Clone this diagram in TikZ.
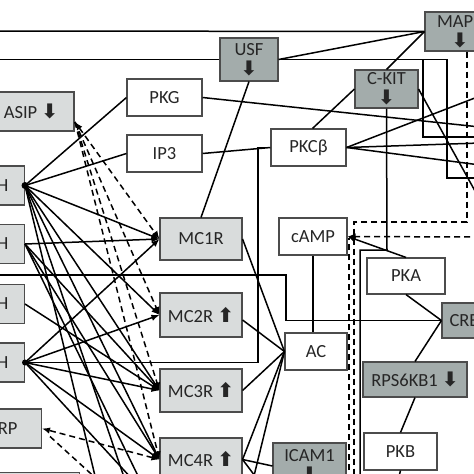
\documentclass[tikz,border=0pt]{standalone}
\usepackage{fontspec}
\setmainfont{Carlito}
\newfontfamily\symfont{DejaVu Sans}
\usetikzlibrary{arrows.meta,calc}
\definecolor{lbox}{RGB}{217,220,220}
\definecolor{dbox}{RGB}{163,172,171}
\newcommand{\dnarr}{{\symfont\bfseries\fontsize{20}{20}\selectfont ⬇}}
\newcommand{\uparr}{{\symfont\bfseries\fontsize{20}{20}\selectfont ⬆}}
\begin{document}
\begin{tikzpicture}[x=1pt,y=-1pt,
  bx/.style={draw=black!70, line width=1.1pt, inner sep=0pt, font=\fontsize{18.5}{20}\selectfont, text=black!85, align=center},
  lg/.style={bx, fill=lbox}, dg/.style={bx, fill=dbox}, wt/.style={bx, fill=white},
  lbx/.style={lg, minimum height=39, text width=40pt, inner xsep=16pt, align=right, anchor=east},
  ln/.style={line width=1.5pt, black},
  dl/.style={ln, dash pattern=on 6pt off 4pt},
  ar/.style={-{Latex[length=8pt,width=6.5pt]}},
  ba/.style={{Latex[length=8pt,width=6.5pt]}-{Latex[length=8pt,width=6.5pt]}},
  dot/.style={fill=black}
]
\useasboundingbox (0,0) rectangle (474,474);
\fill[white] (0,0) rectangle (474,474);
\clip (0,0) rectangle (474,474);
% nodes
\node[lg, minimum width=86, minimum height=39] (ASIP) at (31,111.5) {ASIP \dnarr};
\node[wt, minimum width=75, minimum height=37] (PKG) at (164.5,97.5) {PKG};
\node[wt, minimum width=75, minimum height=37] (IP3) at (164.5,153.5) {IP3};
\node[dg, minimum width=58, minimum height=43] (USF) at (249,59.5) {USF\\[0pt]\dnarr};
\node[dg, minimum width=70, minimum height=39] (MAPK) at (460,31.5) {MAPK\\[0pt]\dnarr};
\node[dg, minimum width=63, minimum height=38] (CKIT) at (386.5,89) {C-KIT\\[0pt]\dnarr};
\node[wt, minimum width=75, minimum height=37] (PKCb) at (308.5,147.5) {PKCβ};
\node[wt, minimum width=68, minimum height=37] (cAMP) at (313,236.5) {cAMP};
\node[wt, minimum width=78, minimum height=36] (PKA) at (406,276) {PKA};
\node[dg, minimum width=54, minimum height=35] (CREB) at (469,320.5) {CREB};
\node[wt, minimum width=62, minimum height=37] (AC) at (316,351.5) {AC};
\node[dg, minimum width=104, minimum height=35] (RPS) at (415,379.5) {RPS6KB1 \dnarr};
\node[wt, minimum width=73, minimum height=37] (PKB) at (400.5,451.5) {PKB};
\node[dg, minimum width=73, minimum height=46] (ICAM1) at (309.5,466) {ICAM1\\[0pt]\dnarr};
\node[lg, minimum width=82, minimum height=42] (MC1R) at (201,239) {MC1R};
\node[lg, minimum width=82, minimum height=44] (MC2R) at (201,315) {MC2R \uparr};
\node[lg, minimum width=82, minimum height=43] (MC3R) at (201,390.5) {MC3R \uparr};
\node[lg, minimum width=82, minimum height=43] (MC4R) at (201,459.5) {MC4R \uparr};
\node[lbx] (L1) at (25,185.5) {H};
\node[lbx] (L2) at (25,244) {H};
\node[lbx] (L3) at (25,304) {H};
\node[lbx] (L4) at (25,362.5) {H};
\node[lbx, inner xsep=24pt] (L5) at (42,428.5) {RP};
\node[lg, minimum width=90, minimum height=40, anchor=north east] (L6) at (80,472) {};
% off-page ends
\coordinate (tl1) at (-5,31);
\coordinate (tl2) at (-5,59.5);
\coordinate (tl3) at (-5,275);
\coordinate (r1) at (480,137);
\coordinate (r2) at (480,178);
\coordinate (r3) at (480,200);
\coordinate (r4) at (480,127);
\coordinate (r5) at (480,96);
\coordinate (r6) at (480,143);
\coordinate (r7) at (480,165);
\coordinate (r8) at (480,237);
\coordinate (b1) at (96,480);
\coordinate (b2) at (125,480);
\coordinate (b3) at (140,480);
\coordinate (b4) at (133,480);
\coordinate (b5) at (253,480);
\coordinate (b6) at (258,480);
\coordinate (b7) at (398,480);
\coordinate (b8) at (360,480);
\coordinate (b9) at (354,480);
\coordinate (b10) at (349,480);
\coordinate (b11) at (100,482);
\coordinate (asp) at (75,122);
% top lines
\draw[ln] (tl1) -- (MAPK.west);
\draw[ln] (tl2) -- (USF.west);
\draw[ln] (USF.east) -- (MAPK.west);
\draw[ln] (USF.east) -- (423,59.5) -- (423,137) -- (r1);
\draw[ln] (USF.east) -- (447,59.5) -- (447,178) -- (r2);
\draw[ln] (MAPK.west) -- (CKIT.north);
\draw[ln] ($(PKCb.north)+(4,0)$) -- (CKIT.west);
\draw[ln] (CKIT.south) -- (387,250) -- (360,250) -- (b8);
\draw[ln] (CKIT.east) -- (r3);
\draw[ln] (PKG.east) -- (r4);
\draw[ln] (PKCb.east) -- (r5);
\draw[ln] (PKCb.east) -- (r6);
\draw[ln] (PKCb.east) -- (r7);
\draw[ln] (IP3.east) -- (PKCb.west);
\draw[ln] (MC1R.north) -- (USF.south);
\draw[ln] (L4.east) -- (258,362.5) |- (PKCb.west);
\draw[ln] (tl3) -- (286,275) |- (CREB.west);
\draw[ln] (cAMP.south) -- (cAMP.south |- AC.north);
\draw[ln,ar] (PKA.north) -- (cAMP.east);
\draw[dl] ($(MAPK.south)+(7,0)$) -- (467,222) -- (354,222) -- (b9);
\draw[dl,ar] (r8) -- (cAMP.east);
\draw[dl] (b10) -- (349,238);
% AC fan
\draw[ln] (MC1R.east) -- (AC.west);
\draw[ln] ($(MC2R.east)+(0,5)$) -- (AC.west);
\draw[ln] (MC3R.east) -- (AC.west);
\draw[ln] (MC4R.east) -- (AC.west);
\draw[ln] (b5) -- (AC.west);
\draw[ln] (MC4R.east) -- (ICAM1.west);
\draw[ln] (MC4R.east) -- (b6);
% right column
\draw[ln] (PKA.south) -- (CREB.west);
\draw[ln] (RPS.north) -- (CREB.west);
\draw[ln] (PKB.north) -- (RPS.south);
\draw[ln] (PKB.south) -- (b7);
% left fans
\draw[ln] (L1.east) -- (PKG.west);
\draw[ln] (L1.east) -- (IP3.west);
\draw[ln,ar] (L1.east) -- (MC1R.west);
\draw[ln,ar] (L1.east) -- (MC2R.west);
\draw[ln,ar] (L1.east) -- (MC3R.west);
\draw[ln,ar] (L1.east) -- (MC4R.west);
\draw[ln] (L1.east) -- (b1);
\draw[ln] (L1.east) -- (b2);
\fill[dot] (L1.east) circle (3.5);
\draw[ln,ar] (L2.east) -- (MC1R.west);
\draw[ln,ar] (L2.east) -- (MC3R.west);
\draw[ln,ar] (L2.east) -- (MC4R.west);
\draw[ln] (L2.east) -- (b3);
\draw[ln,ar] (L3.east) -- (MC3R.west);
\draw[ln,ar] (L4.east) -- (MC1R.west);
\draw[ln,ar] (L4.east) -- (MC2R.west);
\draw[ln,ar] (L4.east) -- (MC3R.west);
\draw[ln,ar] (L4.east) -- (MC4R.west);
\draw[ln] (L4.east) -- (b4);
\fill[dot] (L4.east) circle (3);
% dashed antagonists
\draw[dl,ba] (asp) -- (MC1R.west);
\draw[dl,ar] (asp) -- (MC2R.west);
\draw[dl,ar] (asp) -- (MC3R.west);
\draw[dl,ar] (asp) -- (MC4R.west);
\draw[dl,ba] (MC4R.west) -- (L5.east);
\draw[dl] ($(L5.east)+(8,8)$) -- (b11);
\end{tikzpicture}
\end{document}
